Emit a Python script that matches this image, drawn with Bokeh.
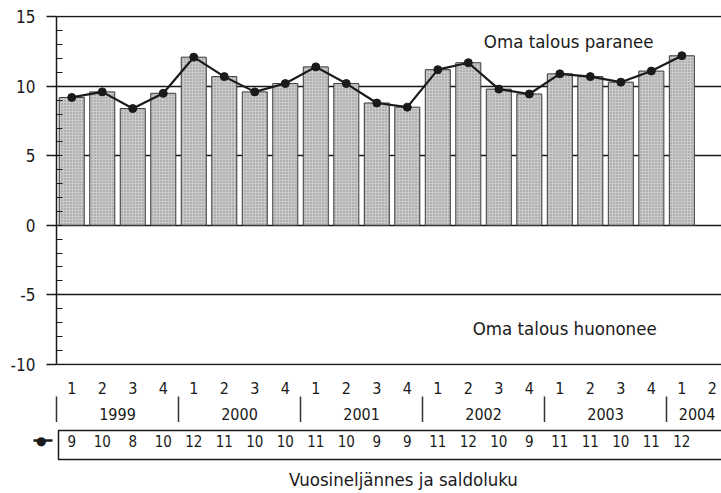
from bokeh.plotting import figure
from bokeh.models import Range1d, LinearAxis, FixedTicker, Label, Grid
from bokeh.layouts import column
from bokeh.embed import file_html
from bokeh.resources import INLINE
from bokeh.core.properties import value

# ---------------- data ----------------
slot_years = ["1999"] * 4 + ["2000"] * 4 + ["2001"] * 4 + ["2002"] * 4 + ["2003"] * 4 + ["2004"] * 2
quarters = ["1", "2", "3", "4"] * 5 + ["1", "2"]
years = ["1999", "2000", "2001", "2002", "2003", "2004"]
saldoluku = [9.2, 9.6, 8.4, 9.5, 12.1, 10.7, 9.6, 10.2, 11.4, 10.2, 8.8, 8.5,
             11.2, 11.7, 9.8, 9.45, 10.9, 10.7, 10.3, 11.1, 12.2]
table_labels = ["9", "10", "8", "10", "12", "11", "10", "10", "11", "10", "9", "9",
                "11", "12", "10", "9", "11", "11", "10", "11", "12"]
y_ticks = [-10, -5, 0, 5, 10, 15]
y_tick_labels = {-10: "-10", -5: "-5"}
text_up = "Oma talous paranee"
text_down = "Oma talous huononee"
x_title = "Vuosineljännes ja saldoluku"

# ---------------- layout / style ----------------
FONT = "DejaVu Sans Condensed, DejaVu Sans, sans-serif"
X0, X1 = -0.5, 21.3
FRAME_W = 665
LEFT = 56
PPU = FRAME_W / (X1 - X0)
INK = "#1a1a1a"
F1_BOTTOM = 422          # page y where the lower figure starts
H2 = 70

slots = list(range(len(saldoluku)))
all_slots = list(range(len(quarters)))

p = figure(frame_width=FRAME_W, frame_height=350,
           x_range=Range1d(X0, X1), y_range=Range1d(-10.1, 15.1),
           output_backend="svg", toolbar_location=None,
           x_axis_type=None, y_axis_type=None,
           min_border_left=LEFT, min_border_right=0, min_border_top=15, min_border_bottom=0)
p.outline_line_color = None

# y axis
yax = LinearAxis(ticker=FixedTicker(ticks=y_ticks, minor_ticks=list(range(-10, 16))),
                 bounds=(-10, 15),
                 major_label_overrides=y_tick_labels,
                 major_tick_out=10, major_tick_in=0, minor_tick_in=6, minor_tick_out=0,
                 major_tick_line_color=INK, minor_tick_line_color=INK,
                 major_tick_line_width=1.5, minor_tick_line_width=1,
                 axis_line_color=INK, axis_line_width=1.5,
                 major_label_standoff=11,
                 major_label_text_font=FONT, major_label_text_font_size="17px",
                 major_label_text_color=INK)
p.add_layout(yax, "left")
p.add_layout(Grid(dimension=1, ticker=FixedTicker(ticks=y_ticks),
                  grid_line_color=INK, grid_line_width=1.5))

# quarter axis
qax = LinearAxis(ticker=FixedTicker(ticks=all_slots),
                 major_label_overrides={i: q for i, q in enumerate(quarters)},
                 axis_line_color=None, major_tick_line_color=None, minor_tick_line_color=None,
                 major_tick_out=0, major_tick_in=0, minor_tick_out=0, minor_tick_in=0,
                 major_label_standoff=16,
                 major_label_text_font=FONT, major_label_text_font_size="16px",
                 major_label_text_color=INK)
p.add_layout(qax, "below")

# year axis with separators
year_centers = []
year_seps = []
for yr in years:
    idx = [i for i, y in enumerate(slot_years) if y == yr]
    year_centers.append(sum(idx) / len(idx))
    year_seps.append(idx[0] - 0.5)
yrax = LinearAxis(ticker=FixedTicker(ticks=year_centers, minor_ticks=year_seps),
                  major_label_overrides={c: y for c, y in zip(year_centers, years)},
                  axis_line_color=None, major_tick_line_color=None,
                  major_tick_out=0, major_tick_in=0,
                  minor_tick_out=26, minor_tick_in=0,
                  minor_tick_line_color="#333333", minor_tick_line_width=1.5,
                  major_label_standoff=-15,
                  major_label_text_font=FONT, major_label_text_font_size="16px",
                  major_label_text_color=INK)
p.add_layout(yrax, "below")

# bars, line, markers
p.vbar(x=slots, top=saldoluku, bottom=0, width=0.82,
       fill_color="#cacaca", line_color="#3a3a3a", line_width=1,
       hatch_pattern="dot", hatch_color="#8a8a8a", hatch_scale=3, hatch_weight=0.8)
p.line(x=slots, y=saldoluku, line_color=INK, line_width=2.2)
p.scatter(x=slots, y=saldoluku, size=8, fill_color=INK, line_color=INK)

p.add_layout(Label(x=16.29, y=13.2, text=text_up, text_align="center", text_baseline="middle",
                   text_font=FONT, text_font_size="18.5px", text_color=INK))
p.add_layout(Label(x=16.16, y=-7.45, text=text_down, text_align="center", text_baseline="middle",
                   text_font=FONT, text_font_size="18.5px", text_color=INK))

# ---------------- table row figure ----------------
p2 = figure(frame_width=FRAME_W, frame_height=H2,
            x_range=Range1d(X0, X1), y_range=Range1d(F1_BOTTOM + H2, F1_BOTTOM),
            output_backend="svg", toolbar_location=None,
            x_axis_type=None, y_axis_type=None,
            min_border_left=LEFT, min_border_right=0, min_border_top=0, min_border_bottom=0)
p2.outline_line_color = None
p2.xgrid.visible = False
p2.ygrid.visible = False

ROW_Y = 440
p2.quad(left=X0 + 2 / PPU, right=X1 + 1, top=430, bottom=459,
        fill_color=None, line_color=INK, line_width=1.5)
p2.text(x=slots, y=[ROW_Y] * len(slots), text=table_labels,
        text_align="center", text_baseline="middle",
        text_font=value(FONT), text_font_size="15px", text_color=INK)
p2.text(x=[X0 + (403 - LEFT) / PPU], y=[479], text=[x_title],
        text_align="center", text_baseline="middle",
        text_font=value(FONT), text_font_size="18.5px", text_color=INK)

# series key (line with marker) to the left of the table row
key = LinearAxis(ticker=FixedTicker(ticks=[ROW_Y], minor_ticks=[]),
                 major_label_overrides={ROW_Y: "\u25cf"},
                 axis_line_color=None,
                 major_tick_out=23, major_tick_in=-4,
                 major_tick_line_color=INK, major_tick_line_width=2.5,
                 minor_tick_line_color=None,
                 major_label_standoff=-13,
                 major_label_text_font="DejaVu Sans", major_label_text_font_size="12px",
                 major_label_text_color=INK)
p2.add_layout(key, "left")

layout = column(p, p2, spacing=0)
open("out.html", "w").write(file_html(layout, INLINE))
